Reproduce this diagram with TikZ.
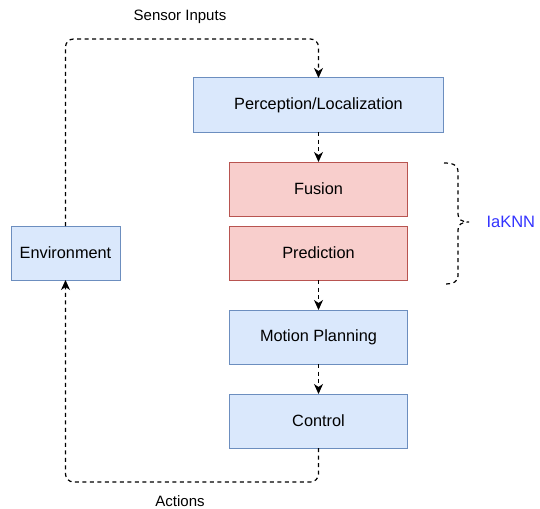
\documentclass[tikz,border=0pt]{standalone}
\usepackage{fontspec}
\setmainfont{Liberation Sans}
\usetikzlibrary{arrows.meta, positioning}
\definecolor{boxblue}{HTML}{DAE8FC}
\definecolor{lineblue}{HTML}{6C8EBF}
\definecolor{boxred}{HTML}{F8CECC}
\definecolor{linered}{HTML}{B85450}
\definecolor{labelblue}{RGB}{51,51,255}

\tikzset{
  block/.style={draw, line width=1pt, minimum height=54pt, minimum width=178pt,
    inner sep=0pt, outer sep=0pt, font=\fontsize{16.3}{19}\selectfont},
  bluebox/.style={block, fill=boxblue, draw=lineblue},
  redbox/.style={block, fill=boxred, draw=linered},
  flow/.style={line width=1.2pt, dash pattern=on 4pt off 3.5pt,
    -{Stealth[length=10pt, width=9pt, inset=3pt]}},
  edgelabel/.style={font=\fontsize{15}{18}\selectfont}
}

\begin{document}
\begin{tikzpicture}[x=1pt, y=-1pt]
  \useasboundingbox (0,0) rectangle (540,508);

  % pipeline
  \node[bluebox, minimum width=250pt] (percep) at (318.5,105) {Perception/Localization};
  \node[redbox] (fusion) at (318.5,189) {Fusion};
  \node[redbox, below=10pt of fusion] (predict) {Prediction};
  \node[bluebox, below=30pt of predict] (motion) {Motion Planning};
  \node[bluebox, below=30pt of motion] (control) {Control};
  \node[bluebox, minimum width=109pt] (env) at (65.5,253) {Environment};

  \draw[flow] (percep.south) -- (fusion.north);
  \draw[flow] (predict.south) -- (motion.north);
  \draw[flow] (motion.south) -- (control.north);

  % loop with the environment
  \draw[flow, rounded corners=8pt] (env.north) -- ++(0,-187) -| (percep.north);
  \draw[flow, rounded corners=8pt] (control.south) -- ++(0,34) -| (env.south);
  \node[edgelabel] (sensor) at (180,17) {Sensor Inputs};
  \node[edgelabel] (actions) at (180,501) {Actions};

  % brace round fusion and prediction
  \draw[line width=1.2pt, dash pattern=on 4pt off 3.5pt]
    (444,163) .. controls (453,163) and (458,165) .. (458,172) -- (458,214)
    .. controls (458,219) and (461,222) .. (469,222)
    .. controls (461,222) and (458,225) .. (458,230) -- (458,276)
    .. controls (458,282) and (453,284) .. (444,284);
  \coordinate (bracetip) at (469,222);
  \node[font=\fontsize{16.5}{19}\selectfont, text=labelblue, right=14pt of bracetip] (iaknn) {IaKNN};
\end{tikzpicture}
\end{document}
